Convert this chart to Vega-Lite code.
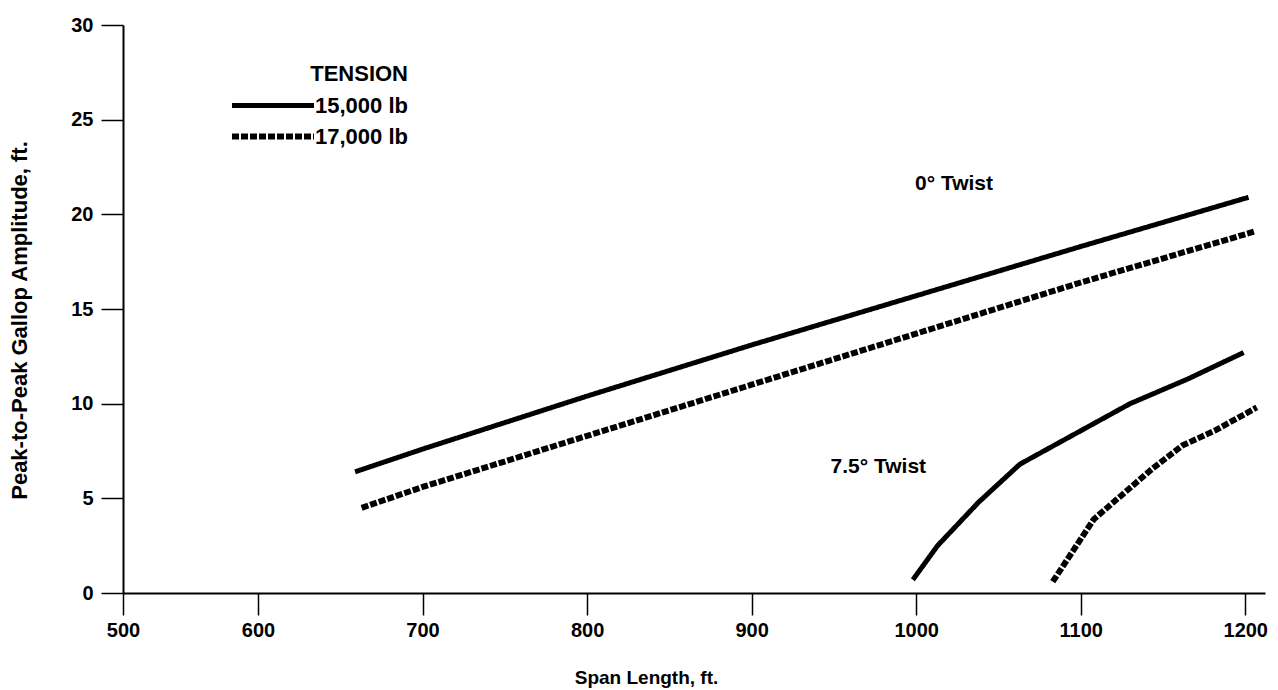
{
  "$schema": "https://vega.github.io/schema/vega-lite/v6.json",
  "width": 1142,
  "height": 568,
  "autosize": {"type": "none"},
  "padding": {"left": 123, "top": 25, "right": 13, "bottom": 97},
  "background": "white",
  "config": {
    "view": {"stroke": null},
    "font": "Liberation Sans",
    "axis": {
      "domainColor": "black", "domainWidth": 2,
      "tickColor": "black", "tickWidth": 1.5, "tickSize": 22,
      "labelColor": "black", "labelFont": "Liberation Sans", "labelFontWeight": "bold", "labelFontSize": 20,
      "titleColor": "black", "titleFont": "Liberation Sans", "titleFontWeight": "bold", "titleFontSize": 19,
      "grid": false, "labelPadding": 5, "labelFlush": false, "labelOverlap": false
    },
    "legend": {
      "labelFont": "Liberation Sans", "labelFontWeight": "bold", "labelFontSize": 22, "labelColor": "black",
      "titleFont": "Liberation Sans", "titleFontWeight": "bold", "titleFontSize": 22, "titleColor": "black"
    }
  },
  "datasets": {
    "curves": [
      {"tension": "15,000 lb", "twist": "0°", "span": 659, "amp": 6.4},
      {"tension": "15,000 lb", "twist": "0°", "span": 700, "amp": 7.6},
      {"tension": "15,000 lb", "twist": "0°", "span": 800, "amp": 10.4},
      {"tension": "15,000 lb", "twist": "0°", "span": 900, "amp": 13.1},
      {"tension": "15,000 lb", "twist": "0°", "span": 1000, "amp": 15.7},
      {"tension": "15,000 lb", "twist": "0°", "span": 1100, "amp": 18.3},
      {"tension": "15,000 lb", "twist": "0°", "span": 1202, "amp": 20.9},
      {"tension": "17,000 lb", "twist": "0°", "span": 663, "amp": 4.5},
      {"tension": "17,000 lb", "twist": "0°", "span": 700, "amp": 5.6},
      {"tension": "17,000 lb", "twist": "0°", "span": 800, "amp": 8.3},
      {"tension": "17,000 lb", "twist": "0°", "span": 900, "amp": 11.0},
      {"tension": "17,000 lb", "twist": "0°", "span": 1000, "amp": 13.7},
      {"tension": "17,000 lb", "twist": "0°", "span": 1100, "amp": 16.4},
      {"tension": "17,000 lb", "twist": "0°", "span": 1206, "amp": 19.1},
      {"tension": "15,000 lb", "twist": "7.5°", "span": 998, "amp": 0.7},
      {"tension": "15,000 lb", "twist": "7.5°", "span": 1013, "amp": 2.5},
      {"tension": "15,000 lb", "twist": "7.5°", "span": 1038, "amp": 4.8},
      {"tension": "15,000 lb", "twist": "7.5°", "span": 1063, "amp": 6.8},
      {"tension": "15,000 lb", "twist": "7.5°", "span": 1086, "amp": 7.9},
      {"tension": "15,000 lb", "twist": "7.5°", "span": 1130, "amp": 10.0},
      {"tension": "15,000 lb", "twist": "7.5°", "span": 1165, "amp": 11.3},
      {"tension": "15,000 lb", "twist": "7.5°", "span": 1199, "amp": 12.7},
      {"tension": "17,000 lb", "twist": "7.5°", "span": 1083, "amp": 0.6},
      {"tension": "17,000 lb", "twist": "7.5°", "span": 1108, "amp": 3.9},
      {"tension": "17,000 lb", "twist": "7.5°", "span": 1144, "amp": 6.6},
      {"tension": "17,000 lb", "twist": "7.5°", "span": 1162, "amp": 7.8},
      {"tension": "17,000 lb", "twist": "7.5°", "span": 1182, "amp": 8.6},
      {"tension": "17,000 lb", "twist": "7.5°", "span": 1207, "amp": 9.8}
    ],
    "notes": [
      {"label": "0° Twist", "span": 1023, "amp": 21.6},
      {"label": "7.5° Twist", "span": 977, "amp": 6.65}
    ]
  },
  "layer": [
    {
      "data": {"name": "curves"},
      "mark": {"type": "line", "color": "black", "strokeCap": "butt", "strokeJoin": "round"},
      "encoding": {
        "x": {
          "field": "span", "type": "quantitative",
          "scale": {"type": "linear", "domain": [500, 600, 1212], "range": [0, 135, 1142], "zero": false, "nice": false},
          "axis": {"title": "Span Length, ft.", "format": "d", "values": [500, 600, 700, 800, 900, 1000, 1100, 1200], "titleX": 523, "titleY": 84, "titleBaseline": "middle", "titleAnchor": null}
        },
        "y": {
          "field": "amp", "type": "quantitative",
          "scale": {"domain": [0, 30], "nice": false},
          "axis": {"title": "Peak-to-Peak Gallop Amplitude, ft.", "values": [0, 5, 10, 15, 20, 25, 30], "labelPadding": 8, "titleFontSize": 22, "titleX": -104, "titleY": 295, "titleBaseline": "middle", "titleAngle": -90}
        },
        "detail": {"field": "twist"},
        "strokeDash": {
          "field": "tension", "type": "nominal",
          "scale": {"domain": ["15,000 lb", "17,000 lb"], "range": [[1, 0], [7, 2]]},
          "legend": {
            "title": "TENSION", "orient": "none", "legendX": 106, "legendY": 39,
            "titleAnchor": "end", "symbolType": "stroke", "symbolSize": 6724,
            "symbolStrokeWidth": 5, "symbolStrokeColor": "black", "clipHeight": 27,
            "labelOffset": -2, "rowPadding": 4, "titlePadding": 6
          }
        },
        "strokeWidth": {
          "field": "tension", "type": "nominal",
          "scale": {"domain": ["15,000 lb", "17,000 lb"], "range": [5, 6]},
          "legend": null
        }
      }
    },
    {
      "data": {"name": "notes"},
      "mark": {"type": "text", "font": "Liberation Sans", "fontWeight": "bold", "fontSize": 21, "color": "black", "align": "center", "baseline": "middle"},
      "encoding": {
        "x": {"field": "span", "type": "quantitative"},
        "y": {"field": "amp", "type": "quantitative"},
        "text": {"field": "label"}
      }
    }
  ]
}
